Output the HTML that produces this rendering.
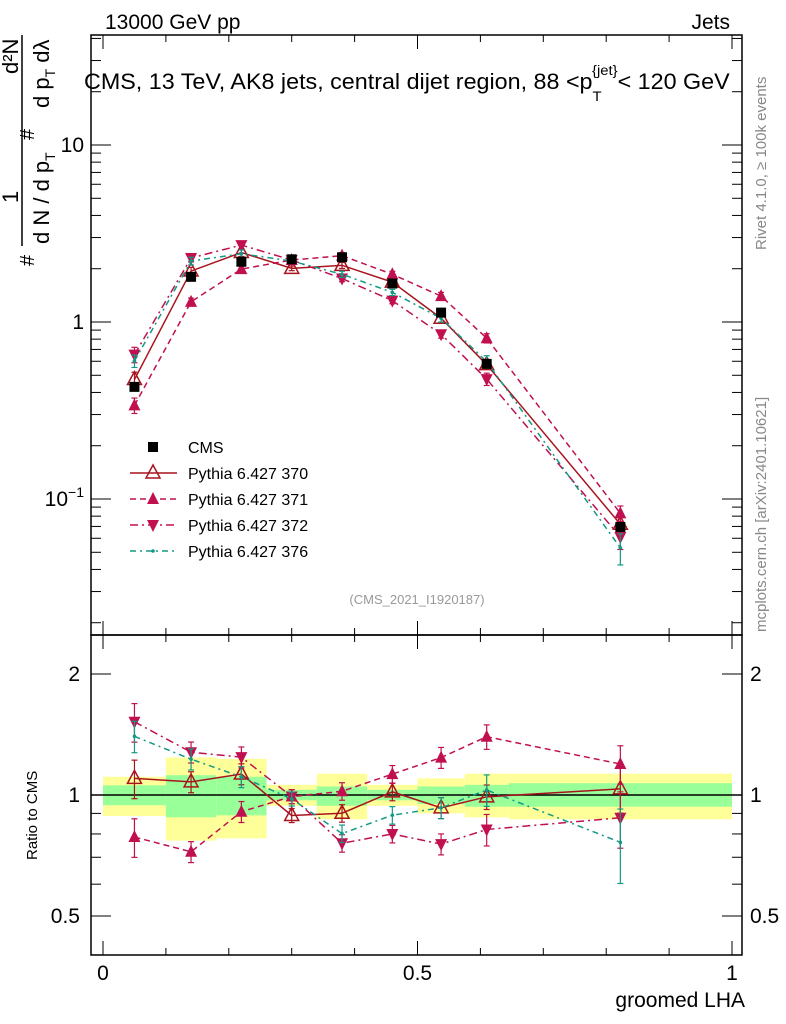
<!DOCTYPE html>
<html><head><meta charset="utf-8"><style>
html,body{margin:0;padding:0;background:#fff}
svg{display:block;font-family:"Liberation Sans",sans-serif}
</style></head><body>
<svg id="c" width="786" height="1024" viewBox="0 0 786 1024" xmlns="http://www.w3.org/2000/svg">
<g id="bands"></g>
<g id="marks"></g>
<g id="axes"></g>
<text x="105" y="29" font-size="21">13000 GeV pp</text>
<text x="730" y="29" font-size="21" text-anchor="end">Jets</text>
<g transform="translate(84,89) scale(1.06,1)">
<text x="0" y="0" font-size="22">CMS, 13 TeV, AK8 jets, central dijet region, 88 &lt;p<tspan font-size="14" dy="12">T</tspan><tspan font-size="14" dy="-26" dx="-9">{jet}</tspan><tspan dy="14">&lt; 120 GeV</tspan></text>
</g>
<text x="417" y="604" font-size="13" fill="#999" text-anchor="middle">(CMS_2021_I1920187)</text>
<text transform="translate(766,250) rotate(-90)" font-size="15" fill="#888">Rivet 4.1.0, ≥ 100k events</text>
<text transform="translate(766,632) rotate(-90)" font-size="15" fill="#888">mcplots.cern.ch [arXiv:2401.10621]</text>
<g font-size="22">
<line x1="22" y1="35" x2="22" y2="246" stroke="#000" stroke-width="1.5"/>
<text transform="translate(18,74) rotate(-90)">d²N</text>
<text transform="translate(18,203) rotate(-90)">1</text>
<text transform="translate(34,140) rotate(-90)" font-size="20">#</text>
<text transform="translate(34,266) rotate(-90)" font-size="20">#</text>
<text transform="translate(49,108) rotate(-90)">d p<tspan font-size="14" dy="6">T</tspan><tspan dy="-6">  dλ</tspan></text>
<text transform="translate(49,244) rotate(-90)">d N / d p<tspan font-size="14" dy="6">T</tspan></text>
</g>
<text transform="translate(37,860) rotate(-90)" font-size="15">Ratio to CMS</text>
<text x="745" y="1007" font-size="21" text-anchor="end">groomed LHA</text>
<g id="legend"></g>
</svg>
<script>
const binEdges=[0,0.1,0.18,0.26,0.34,0.42,0.5,0.575,0.645,1.0];
const xCenters=[0.05,0.14,0.22,0.30,0.38,0.46,0.5375,0.61,0.8225];
const cmsValues=[0.43,1.80,2.19,2.26,2.32,1.65,1.13,0.58,0.0695];
const yellowUp=[1.11,1.24,1.23,1.06,1.13,1.06,1.10,1.13,1.13];
const yellowDown=[0.887,0.77,0.78,0.94,0.87,0.94,0.90,0.88,0.87];
const greenUp=[1.057,1.12,1.11,1.03,1.05,1.03,1.05,1.06,1.07];
const greenDown=[0.943,0.88,0.89,0.97,0.94,0.97,0.95,0.935,0.935];
const p370=[0.473,1.94,2.47,2.01,2.09,1.68,1.05,0.574,0.072];
const p371=[0.338,1.30,1.99,2.24,2.37,1.86,1.40,0.81,0.083];
const p372=[0.654,2.30,2.72,2.24,1.76,1.32,0.853,0.476,0.061];
const p376=[0.602,2.21,2.43,2.21,1.86,1.47,1.05,0.597,0.053];
const relErr370=[0.1,0.05,0.05,0.03,0.04,0.04,0.05,0.06,0.12];
const relErr371=[0.1,0.05,0.05,0.03,0.04,0.04,0.05,0.06,0.1];
const relErr372=[0.1,0.05,0.05,0.03,0.04,0.04,0.05,0.08,0.15];
const relErr376=[0.08,0.05,0.05,0.03,0.04,0.04,0.05,0.08,0.2];
const mainTicks=[10,1,0.1];
const ratioTicks=[2,1,0.5];
const xTicks=[0,0.5,1];
const legendLabels=["CMS","Pythia 6.427 370","Pythia 6.427 371","Pythia 6.427 372","Pythia 6.427 376"];

const NS="http://www.w3.org/2000/svg";
const L=91,R=742,T=35,M=635,B=955;
const X=v=>103+v*629;
const Y=v=>322-177*Math.log10(v);
const YR=v=>795-121*Math.log2(v);
function mk(p,tag,a){const e=document.createElementNS(NS,tag);for(const k in a)e.setAttribute(k,a[k]);p.appendChild(e);return e;}
const bands=document.getElementById('bands'),marks=document.getElementById('marks'),axes=document.getElementById('axes'),leg=document.getElementById('legend');

for(let i=0;i<xCenters.length;i++){
 const x0=X(binEdges[i]),x1=X(binEdges[i+1]);
 const y=mk(bands,'rect',{x:x0,y:YR(yellowUp[i]),width:x1-x0,height:YR(yellowDown[i])-YR(yellowUp[i]),fill:'#ffff99'});
 
 
 const g=mk(bands,'rect',{x:x0,y:YR(greenUp[i]),width:x1-x0,height:YR(greenDown[i])-YR(greenUp[i]),fill:'#99ff99'});
 
 
}
mk(bands,'line',{x1:L,x2:R,y1:YR(1),y2:YR(1),stroke:'#000','stroke-width':1.5});

function marker(p,type,x,y,col){
 let e;
 if(type==='sq')e=mk(p,'rect',{x:x-5,y:y-5,width:10,height:10,fill:'#000'});
 else if(type==='open')e=mk(p,'polygon',{points:`${x},${y-8} ${x-7},${y+5} ${x+7},${y+5}`,fill:'none',stroke:col,'stroke-width':1.5});
 else if(type==='up')e=mk(p,'polygon',{points:`${x},${y-7} ${x-6},${y+5} ${x+6},${y+5}`,fill:col});
 else if(type==='down')e=mk(p,'polygon',{points:`${x},${y+7} ${x-6},${y-5} ${x+6},${y-5}`,fill:col});
 else e=mk(p,'circle',{cx:x,cy:y,r:1.8,fill:col});
 return e;
}
const series=[
 {name:'pythia-370',vals:p370,err:relErr370,col:'#a8141e',dash:'',type:'open'},
 {name:'pythia-371',vals:p371,err:relErr371,col:'#c0104f',dash:'6,4',type:'up'},
 {name:'pythia-372',vals:p372,err:relErr372,col:'#c0104f',dash:'8,4,2,4',type:'down'},
 {name:'pythia-376',vals:p376,err:relErr376,col:'#129a86',dash:'6,4,2,4',type:'dot'}
];
series.forEach(s=>{
 const pm=xCenters.map((x,i)=>X(x)+','+Y(s.vals[i])).join(' ');
 const l1=mk(marks,'polyline',{points:pm,fill:'none',stroke:s.col,'stroke-width':1.5,'stroke-dasharray':s.dash});
 
 
 const pr=xCenters.map((x,i)=>X(x)+','+YR(s.vals[i]/cmsValues[i])).join(' ');
 const l2=mk(marks,'polyline',{points:pr,fill:'none',stroke:s.col,'stroke-width':1.5,'stroke-dasharray':s.dash});
 
 
 xCenters.forEach((xv,i)=>{
  const x=X(xv),v=s.vals[i],r=v/cmsValues[i],e=s.err[i];
  [[Y(v*(1+e)),Y(v*(1-e))],[YR(r*(1+e+0.01)),YR(r*(1-e-0.01))]].forEach(([a,b])=>{
   mk(marks,'line',{x1:x,x2:x,y1:a,y2:b,stroke:s.col,'stroke-width':1.2});
   mk(marks,'line',{x1:x-3,x2:x+3,y1:a,y2:a,stroke:s.col,'stroke-width':1.2});
   mk(marks,'line',{x1:x-3,x2:x+3,y1:b,y2:b,stroke:s.col,'stroke-width':1.2});
  });
  const m1=marker(marks,s.type,x,Y(v),s.col);
  
  
  const m2=marker(marks,s.type,x,YR(r),s.col);
  
  
 });
});
xCenters.forEach((xv,i)=>{
 const m=marker(marks,'sq',X(xv),Y(cmsValues[i]),'#000');
 
 
});

mk(axes,'rect',{x:L,y:T,width:R-L,height:M-T,fill:'none',stroke:'#000','stroke-width':1.5});
mk(axes,'rect',{x:L,y:M,width:R-L,height:B-M,fill:'none',stroke:'#000','stroke-width':1.5});
for(let k=0;k<=10;k++){const x=X(k/10),len=(k%5===0)?14:7;
 [T,M].forEach(y0=>mk(axes,'line',{x1:x,x2:x,y1:y0,y2:y0+len,stroke:'#000'}));
 [M,B].forEach(y0=>mk(axes,'line',{x1:x,x2:x,y1:y0,y2:y0-len,stroke:'#000'}));
}
xTicks.forEach(v=>{const t=mk(axes,'text',{x:X(v),y:980,'font-size':21,'text-anchor':'middle'});t.textContent=String(v);
 
 });
for(let d=-2;d<=1;d++)for(let m=1;m<=9;m++){const v=m*Math.pow(10,d),y=Y(v);if(y<T||y>M)continue;const len=m===1?20:10;
 mk(axes,'line',{x1:L,x2:L+len,y1:y,y2:y,stroke:'#000'});mk(axes,'line',{x1:R,x2:R-len,y1:y,y2:y,stroke:'#000'});}
mainTicks.forEach(v=>{const t=mk(axes,'text',{x:84,y:Y(v)+7,'font-size':21,'text-anchor':'end'});
 if(v===0.1){t.textContent='10';const s=mk(t,'tspan',{dy:-9,'font-size':14});s.textContent='−1';}else t.textContent=String(v);
 
 });
[0.4,0.5,0.6,0.7,0.8,0.9,1,2].forEach(v=>{const y=YR(v),len=(v===1||v===2||v===0.5)?20:10;
 mk(axes,'line',{x1:L,x2:L+len,y1:y,y2:y,stroke:'#000'});mk(axes,'line',{x1:R,x2:R-len,y1:y,y2:y,stroke:'#000'});});
ratioTicks.forEach(v=>{[[80,'end'],[750,'start']].forEach(([x,a])=>{const t=mk(axes,'text',{x:x,y:YR(v)+7,'font-size':21,'text-anchor':a});t.textContent=String(v);
 
 });});
const lt=[{type:'sq',col:'#000',dash:null}].concat(series);
lt.forEach((s,i)=>{const y=447+i*26;
 if(s.dash!==null)mk(leg,'line',{x1:130,x2:177,y1:y,y2:y,stroke:s.col,'stroke-width':1.5,'stroke-dasharray':s.dash});
 marker(leg,s.type,153,y,s.col);
 const t=mk(leg,'text',{x:188,y:y+6,'font-size':16});t.textContent=legendLabels[i];
 
 
});
</script>
</body></html>
